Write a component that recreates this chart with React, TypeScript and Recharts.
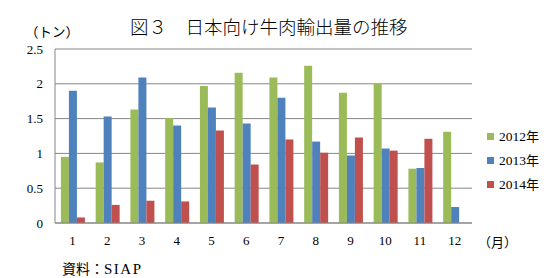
import React from 'react';
import { BarChart, Bar, XAxis, YAxis, CartesianGrid, Legend } from 'recharts';

const months = ['1', '2', '3', '4', '5', '6', '7', '8', '9', '10', '11', '12'];
const y2012 = [0.95, 0.87, 1.63, 1.51, 1.97, 2.16, 2.09, 2.26, 1.87, 2.0, 0.78, 1.31];
const y2013 = [1.9, 1.53, 2.09, 1.4, 1.66, 1.43, 1.8, 1.17, 0.97, 1.07, 0.79, 0.23];
const y2014 = [0.08, 0.26, 0.32, 0.31, 1.33, 0.84, 1.2, 1.01, 1.23, 1.04, 1.21, null];
const yTicks = [0, 0.5, 1, 1.5, 2, 2.5];
const seriesNames = ['2012年', '2013年', '2014年'];
const colors = ['#9BBB59', '#4F81BD', '#C0504D'];

const data = months.map((m, i) => ({
  month: m,
  a: y2012[i],
  b: y2013[i],
  c: y2014[i],
}));

const serif = '"Liberation Serif", "DejaVu Serif", serif';
const jp = '"Noto Sans CJK JP", sans-serif';

const renderLegend = () => (
  <div style={{ position: 'absolute', left: 487, top: 125, width: 70, whiteSpace: 'nowrap' }}>
    {seriesNames.map((n, i) => (
      <div key={n} style={{ display: 'flex', alignItems: 'center', height: 23.7, whiteSpace: 'nowrap' }}>
        <div style={{ width: 7, height: 7, background: colors[i], marginRight: 5, flex: 'none' }} />
        <span style={{ fontFamily: serif, fontSize: 13.5, color: '#000', lineHeight: '16px', whiteSpace: 'nowrap' }}>
          {n.slice(0, 4)}
          <span style={{ fontFamily: jp, fontSize: 13 }}>{n.slice(4)}</span>
        </span>
      </div>
    ))}
  </div>
);

export default function App() {
  return (
    <div style={{ position: 'absolute', left: 0, top: 0, width: 556, height: 278, background: '#fff' }}>
      <BarChart
        width={556}
        height={278}
        data={data}
        margin={{ top: 49, right: 84, bottom: 25, left: 15 }}
        barCategoryGap="17%"
        barGap={0}
      >
        <CartesianGrid vertical={false} stroke="#868686" strokeWidth={1} />
        <XAxis
          dataKey="month"
          tickLine={false}
          tickSize={0}
          tickMargin={13}
          axisLine={{ stroke: '#868686' }}
          tick={{ fontFamily: serif, fontSize: 13, fill: '#000' }}
          height={30}
        />
        <YAxis
          domain={[0, 2.5]}
          ticks={yTicks}
          tickLine={false}
          tickSize={0}
          tickMargin={12}
          width={40}
          axisLine={{ stroke: '#868686' }}
          tick={{ fontFamily: serif, fontSize: 13, fill: '#000' }}
        />
        <Legend content={renderLegend} wrapperStyle={{ position: 'absolute', left: 0, top: 0, width: 556 }} />
        <Bar dataKey="a" name={seriesNames[0]} fill={colors[0]} isAnimationActive={false} />
        <Bar dataKey="b" name={seriesNames[1]} fill={colors[1]} isAnimationActive={false} />
        <Bar dataKey="c" name={seriesNames[2]} fill={colors[2]} isAnimationActive={false} />
      </BarChart>
      <div style={{ position: 'absolute', left: 130, top: 13, fontFamily: jp, fontSize: 18.5, fontWeight: 300, color: '#000', whiteSpace: 'pre', lineHeight: '26px' }}>
        {'図３　日本向け牛肉輸出量の推移'}
      </div>
      <div style={{ position: 'absolute', left: 25, top: 22, fontFamily: jp, fontSize: 13.5, color: '#000', whiteSpace: 'pre', lineHeight: '18px' }}>
        {'（トン）'}
      </div>
      <div style={{ position: 'absolute', left: 478, top: 233, fontFamily: jp, fontSize: 13, color: '#000', whiteSpace: 'pre', lineHeight: '18px' }}>
        {'（月）'}
      </div>
      <div style={{ position: 'absolute', left: 62, top: 259, color: '#000', whiteSpace: 'pre', lineHeight: '18px' }}>
        <span style={{ fontFamily: jp, fontSize: 14 }}>{'資料：'}</span>
        <span style={{ fontFamily: serif, fontSize: 15, letterSpacing: 1.5 }}>{'SIAP'}</span>
      </div>
    </div>
  );
}
